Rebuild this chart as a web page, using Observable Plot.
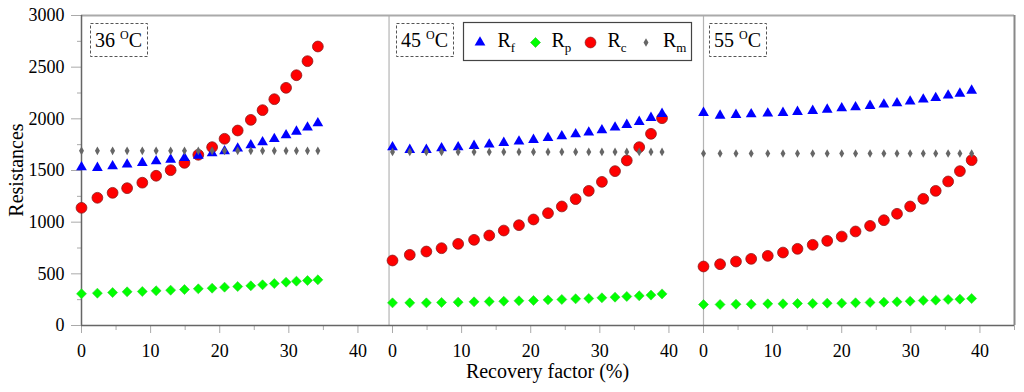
<!DOCTYPE html>
<html><head><meta charset="utf-8">
<script src="https://cdn.jsdelivr.net/npm/d3@7"></script>
<script src="https://cdn.jsdelivr.net/npm/@observablehq/plot@0.6"></script>
<style>
html,body{margin:0;padding:0;background:#fff;}
#chart{position:relative;width:1024px;height:392px;}
</style></head><body><div id="chart"></div>
<script>
// Panels (temperature) and their x origin on the shared broken axis
const panels = ["36", "45", "55"];
const panelOrigin = [0, 45, 90];
const dividers = [44.5, 90];

// Recovery factor (%) per panel
const x36 = [0, 2.3, 4.5, 6.6, 8.8, 10.8, 12.9, 14.9, 16.9, 18.9, 20.7, 22.6, 24.5, 26.2, 27.9, 29.6, 31.1, 32.7, 34.2];
const x45 = [0, 2.5, 4.9, 7.1, 9.5, 11.8, 14.0, 16.1, 18.3, 20.4, 22.5, 24.5, 26.5, 28.4, 30.3, 32.2, 33.9, 35.7, 37.4, 39.0];
const x55 = [0, 2.4, 4.7, 6.9, 9.3, 11.5, 13.6, 15.8, 17.9, 20.0, 22.0, 24.1, 26.1, 28.0, 29.9, 31.8, 33.6, 35.4, 37.1, 38.8];

// 36 °C
const rf36 = [1532, 1526, 1542, 1558, 1574, 1590, 1606, 1622, 1645, 1668, 1687, 1713, 1745, 1774, 1806, 1842, 1877, 1916, 1958];
const rp36 = [307, 313, 319, 326, 329, 336, 342, 348, 355, 361, 371, 377, 384, 394, 406, 419, 429, 435, 442];
const rc36 = [1139, 1236, 1284, 1329, 1382, 1449, 1503, 1574, 1652, 1726, 1807, 1887, 1990, 2084, 2190, 2300, 2422, 2558, 2700];
const rm36 = [1690, 1690, 1690, 1690, 1690, 1690, 1690, 1690, 1690, 1690, 1690, 1690, 1690, 1690, 1690, 1690, 1690, 1690, 1690];
// 45 °C
const rf45 = [1726, 1700, 1700, 1716, 1726, 1739, 1752, 1768, 1781, 1797, 1816, 1832, 1852, 1868, 1890, 1916, 1942, 1971, 2010, 2049];
const rp45 = [219, 219, 219, 223, 226, 229, 232, 235, 239, 242, 248, 252, 258, 261, 268, 274, 281, 287, 294, 306];
const rc45 = [629, 684, 716, 748, 790, 829, 871, 919, 971, 1026, 1087, 1152, 1223, 1303, 1390, 1494, 1597, 1726, 1855, 2006];
const rm45 = [1680, 1680, 1680, 1680, 1680, 1680, 1680, 1680, 1680, 1680, 1680, 1680, 1680, 1680, 1680, 1680, 1680, 1680, 1680, 1680];
// 55 °C
const rf55 = [2058, 2032, 2039, 2045, 2052, 2058, 2068, 2078, 2090, 2103, 2113, 2126, 2139, 2152, 2168, 2187, 2203, 2226, 2245, 2274];
const rp55 = [203, 203, 206, 206, 210, 210, 213, 213, 216, 216, 220, 223, 226, 229, 235, 242, 245, 252, 255, 261];
const rc55 = [571, 593, 619, 645, 674, 706, 742, 781, 819, 861, 910, 964, 1019, 1081, 1152, 1226, 1303, 1394, 1494, 1600];
const rm55 = [1665, 1665, 1665, 1665, 1665, 1665, 1665, 1665, 1665, 1665, 1665, 1665, 1665, 1665, 1665, 1665, 1665, 1665, 1665, 1665];

const yMajor = [0, 500, 1000, 1500, 2000, 2500, 3000];
const yMinor = [250, 750, 1250, 1750, 2250, 2750];
const xTickVals = [0, 10, 20, 30, 40];
const xMinorVals = [5, 15, 25, 35];

const seriesNames = ["Rf", "Rp", "Rc", "Rm"];
const seriesSub = ["f", "p", "c", "m"];

const rows = [];
function add(pi, xs, ys, s) {
  xs.forEach((x, i) => rows.push({panel: panels[pi], x: x + panelOrigin[pi], rf: x, value: ys[i], series: s}));
}
add(0, x36, rf36, "Rf"); add(0, x36, rp36, "Rp"); add(0, x36, rc36, "Rc"); add(0, x36, rm36, "Rm");
add(1, x45, rf45, "Rf"); add(1, x45, rp45, "Rp"); add(1, x45, rc45, "Rc"); add(1, x45, rm45, "Rm");
add(2, x55, rf55, "Rf"); add(2, x55, rp55, "Rp"); add(2, x55, rc55, "Rc"); add(2, x55, rm55, "Rm");
const of = s => rows.filter(d => d.series === s);

const xMajor = panelOrigin.flatMap(o => xTickVals.map(t => o + t));
const xMinor = panelOrigin.flatMap(o => xMinorVals.map(t => o + t)).concat([135]);
const fmt = d => String(Math.round(d - panelOrigin[Math.min(2, Math.floor((d + 0.01) / 45))]));
const font = "Liberation Serif";

const plot = Plot.plot({
  width: 1024, height: 392,
  marginTop: 15, marginRight: 10, marginBottom: 67, marginLeft: 81,
  style: {fontFamily: font, fontSize: "18px", background: "white", color: "black"},
  x: {domain: [0, 135], axis: null},
  y: {domain: [0, 3000], axis: null},
  marks: [
    Plot.ruleX(dividers, {stroke: "#b4b4b4", strokeWidth: 1.2}),
    Plot.ruleY([3000], {stroke: "#aaaaaa", strokeWidth: 2}),
    Plot.ruleX([135], {stroke: "#888888", strokeWidth: 2}),
    Plot.axisX({ticks: xMinor, tickSize: 5, fill: "none", stroke: "#aaaaaa", label: null}),
    Plot.axisX({ticks: xMajor, tickSize: 8, tickPadding: 11, tickFormat: fmt, stroke: "#aaaaaa", fill: "black", label: null, fontSize: 18, fontFamily: font}),
    Plot.axisY({ticks: yMinor, tickSize: 4, fill: "none", stroke: "#aaaaaa", label: null}),
    Plot.axisY({ticks: yMajor, tickSize: 10, tickPadding: 7, tickFormat: d => String(d), stroke: "#aaaaaa", fill: "black", label: null, fontSize: 18, fontFamily: font}),
    Plot.ruleY([0], {stroke: "#666666", strokeWidth: 1.5}),
    Plot.ruleX([0], {stroke: "#666666", strokeWidth: 1.5}),
    Plot.dot(of("Rc"), {x: "x", y: "value", symbol: "circle", r: 5.4, fill: "#ff0000", stroke: "#8b1a1a", strokeWidth: 0.8}),
    Plot.dot(of("Rp"), {x: "x", y: "value", symbol: "diamond2", r: 4.5, fill: "#00ff00", stroke: "#33cc33", strokeWidth: 0.6}),
    Plot.dot(of("Rf"), {x: "x", y: "value", symbol: "triangle", r: 4.0, fill: "#0000ff", stroke: "none"}),
    Plot.dot(of("Rm"), {x: "x", y: "value", symbol: "diamond", r: 2.6, fill: "#666666", stroke: "none"})
  ]
});

document.getElementById("chart").appendChild(plot);

const svg = d3.select(plot);

// Axis titles
svg.append("text")
  .attr("transform", "translate(23,170) rotate(-90)")
  .attr("text-anchor", "middle").attr("font-size", 20).attr("font-family", font).attr("fill", "black")
  .text("Resistances");
svg.append("text")
  .attr("x", 547.5).attr("y", 378)
  .attr("text-anchor", "middle").attr("font-size", 20).attr("font-family", font).attr("fill", "black")
  .text("Recovery factor (%)");

// Panel temperature labels in dashed boxes
const boxLeft = [90, 396, 709];
panels.forEach((p, i) => {
  const g = svg.append("g").attr("transform", `translate(${boxLeft[i]},23)`);
  g.append("rect").attr("x", 0.5).attr("y", 0.5).attr("width", 57).attr("height", 33)
    .attr("fill", "white").attr("stroke", "#555").attr("stroke-dasharray", "3,2");
  const t = g.append("text").attr("x", 5).attr("y", 24).attr("text-anchor", "start")
    .attr("font-size", 20).attr("font-family", font).attr("fill", "black");
  t.append("tspan").text(p + " ");
  t.append("tspan").attr("font-size", 12).attr("dy", -8).text("O");
  t.append("tspan").attr("dy", 8).text("C");
});

// Legend
const lg = svg.append("g").attr("transform", "translate(463,22)");
lg.append("rect").attr("x", 0.5).attr("y", 0.5).attr("width", 228).attr("height", 38)
  .attr("fill", "white").attr("stroke", "#444").attr("stroke-width", 1.2);
const legendItems = [
  {sym: d3.symbolTriangle, r: 4.0, fill: "#0000ff", stroke: "none", sx: 17, tx: 34.5},
  {sym: d3.symbolDiamond2, r: 4.5, fill: "#00ff00", stroke: "#33cc33", sx: 72.5, tx: 88.5},
  {sym: d3.symbolCircle, r: 5.4, fill: "#ff0000", stroke: "#8b1a1a", sx: 127.5, tx: 144.5},
  {sym: d3.symbolDiamond, r: 2.6, fill: "#666666", stroke: "none", sx: 183, tx: 200}
];
legendItems.forEach((it, i) => {
  lg.append("path")
    .attr("d", d3.symbol(it.sym, Math.PI * it.r * it.r)())
    .attr("transform", `translate(${it.sx},20.5)`)
    .attr("fill", it.fill).attr("stroke", it.stroke).attr("stroke-width", 0.7);
  const t = lg.append("text").attr("x", it.tx).attr("y", 24.7).attr("text-anchor", "start")
    .attr("font-size", 20).attr("font-family", font).attr("fill", "black");
  t.append("tspan").text("R");
  t.append("tspan").attr("font-size", 13).attr("dy", 5.5).text(seriesSub[i]);
});
</script>
</body></html>
